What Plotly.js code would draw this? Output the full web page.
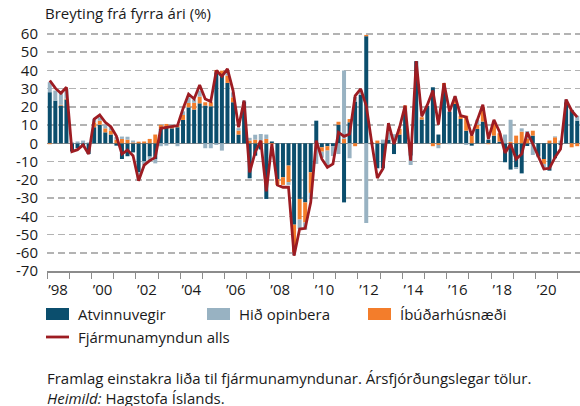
<!DOCTYPE html>
<html><head><meta charset="utf-8">
<script src="https://cdn.plot.ly/plotly-3.0.1.min.js"></script>
<style>html,body{margin:0;padding:0;background:#fff}#chart{width:580px;height:406px}</style>
</head><body><div id="chart"></div>
<script>
const startYear = 1998;
const nQuarters = 96;
const atvinnuvegir = [28,23.4,20.7,24,-4.5,-2.7,-1.3,-5.9,8.8,10.2,6,4.8,-1.3,-8.6,-7.1,-5,
  -15.9,-10,-7.3,-8.6,7.9,9.1,8.2,8.8,12.8,19.7,18.5,21.9,20.7,20.3,38.9,37.1,
  33.1,22.5,4.8,22.9,-19.2,-6.8,-3.4,-30.5,1,-19.6,-18.6,-12.2,-44.6,-30.5,-32.4,-15.9,
  12.4,-2.2,-1.6,-1.5,10.2,-32.4,11.5,22.9,26.5,58.7,-0.5,-13.7,-13.7,2,-5.9,4.8,
  18,-6.8,45,13,20.5,30.7,4.8,31,17.4,21.6,13.3,6.9,-1.3,7.9,11.9,1.8,
  4.2,0.9,-10.4,-14.4,-13.2,-16.5,-1.5,4.2,-7.3,-8.6,-15,-8.2,-1,22.5,18.3,12.4];
const hidOpinbera = [5.5,5.5,6.5,5.5,0.5,1,1.5,0.5,1.8,1.8,1.8,2,1.5,1.3,1.6,1,
  -3.6,-2.2,-2.7,-2.4,-1.6,-1.3,0,-1.6,2,3.1,1.8,3.3,-2.7,-2.7,-0.9,-4,
  2.7,2.7,1.3,0.5,1.5,2.7,3.6,2.4,0,0,0,-1.5,-1.5,-5.1,-4,-3.3,
  -11.3,-3.3,-7.9,-5.5,-5.9,37.5,-8.2,2.5,2.5,-43.7,0,0,2,4,5,0,
  0,-5.1,0,0,0,0,-1.8,0,-0.5,0.8,0,-0.9,0,2.9,0,0.5,
  1.5,0,4.8,12,-0.9,1.8,4,-6.4,-0.4,-1.8,0,0.5,1.5,1.5,0,2.7];
const ibudarhusnaedi = [-0.5,0,0.4,0.5,0,0,0,0,2.7,2.2,2.2,2.2,2,2.4,2,0.5,
  0.9,1,2.4,4.8,2.2,1.5,1.2,0.8,2.7,2.4,3.7,3.7,1.8,2.2,1.3,2.7,
  4,2.7,2.2,0,1.5,2,1.5,2.4,-0.5,-3.3,-4.2,-9.1,-15.2,-11.3,-11,-11.3,
  0,-2.4,-2.4,0,1.6,2.4,1.8,-1.6,0,0.7,0.5,1.5,0,0,0,3.1,
  2.7,0,0,1.3,0,-1.6,-0.9,2,0,3.3,1.8,8.2,4.2,2.2,7.9,-0.5,
  6.5,4.6,0,0.9,4.2,6.4,2.7,2.7,0,-2.7,1.5,3.3,0,0,-2.2,-1.6];
const fjarmunamyndunAlls = [34.4,30.2,27.4,30.7,-4.6,-3.5,-0.9,-5.9,13.3,15.5,11.5,9.1,4,-5.9,-3.7,-6.8,
  -20.5,-12,-9.5,-7.7,8.2,8.8,9.1,9.7,19,27,24.3,32,24.3,22.9,39.9,36.7,
  40.8,29,8.8,23.4,-15.9,-4.9,1.5,-26.3,-0.4,-22.9,-24.1,-24.1,-61.6,-47,-46.6,-32.4,
  1.5,-8.6,-13.2,-11.3,6,3.8,5.1,26,29.8,20.7,0,-19,-14,11,-0.4,8.8,
  20.7,-9.5,45,14.8,21,28.9,10.2,33,17.4,25.8,15.2,14.3,4.2,13.3,21.2,2.4,
  12.8,6.4,-5.3,-0.4,-8.6,-5.9,6,-0.4,-7.7,-14.1,-13.7,-7.7,-3.1,24,17.9,14.3];
const yearLabels = ["’98","’00","’02","’04","’06","’08","’10","’12","’14","’16","’18","’20"];
const yTickVals = [60,50,40,30,20,10,0,-10,-20,-30,-40,-50,-60,-70];
const yTickText = ["60","50","40","30","20","10","0","-10","-20","-30","-40","-50","-60","-70"];
const names = {a:"Atvinnuvegir", h:"Hið opinbera", i:"Íbúðarhúsnæði", t:"Fjármunamyndun alls"};
const colors = {a:"#0b4e6d", h:"#98b2c2", i:"#f37d2b", t:"#9d1c22"};

// quarter positions (decimal year, quarter centre)
const xq = [];
for (let k = 0; k < nQuarters; k++) xq.push(startYear + Math.floor(k/4) + (k%4)/4 + 0.125);
const labelPos = yearLabels.map((s, k) => startYear + 2*k + 0.5);

const FONT = "Open Sans, Noto Sans, sans-serif";
const FS = 15;
const TXT = "#1a1a1a";
const W = 580, H = 406, L = 47, R = 0, T = 32, B = 135;
const pw = W - L - R, ph = H - T - B;
const px = p => (p - L) / pw;
const py = p => (H - B - p) / ph;

const barCommon = {type:"bar", x:xq, showlegend:false, hoverinfo:"x+y+name"};
const traces = [
  Object.assign({}, barCommon, {name:names.a, y:atvinnuvegir, marker:{color:colors.a}}),
  Object.assign({}, barCommon, {name:names.i, y:ibudarhusnaedi, marker:{color:colors.i}}),
  Object.assign({}, barCommon, {name:names.h, y:hidOpinbera, marker:{color:colors.h}}),
  {type:"scatter", mode:"lines", name:names.t, x:xq, y:fjarmunamyndunAlls, showlegend:false,
   line:{color:colors.t, width:2.8}}
];

// manual legend
const shapes = [];
const annotations = [];
function swatch(x0, name, color) {
  shapes.push({type:"rect", xref:"paper", yref:"paper", x0:px(x0), x1:px(x0+23), y0:py(320), y1:py(308),
    fillcolor:color, line:{width:0}});
  annotations.push({xref:"paper", yref:"paper", x:px(x0+30), y:py(314), xanchor:"left", yanchor:"middle",
    text:name, showarrow:false, font:{family:FONT, size:FS, color:TXT}});
}
swatch(46, names.a, colors.a);
swatch(207, names.h, colors.h);
swatch(368, names.i, colors.i);
shapes.push({type:"line", xref:"paper", yref:"paper", x0:px(46), x1:px(69), y0:py(337), y1:py(337),
  line:{color:colors.t, width:2.8}});
annotations.push({xref:"paper", yref:"paper", x:px(76), y:py(337), xanchor:"left", yanchor:"middle",
  text:names.t, showarrow:false, font:{family:FONT, size:FS, color:TXT}});
annotations.push({xref:"paper", yref:"paper", x:px(45), y:py(388), xanchor:"left", yanchor:"middle",
  align:"left",
  text:"Framlag einstakra liða til fjármunamyndunar. Ársfjórðungslegar tölur.<br><i>Heimild:</i> Hagstofa Íslands.",
  showarrow:false, font:{family:FONT, size:FS, color:TXT}});

const layout = {
  width:W, height:H, margin:{l:L, r:R, t:T, b:B},
  paper_bgcolor:"#fff", plot_bgcolor:"#fff",
  font:{family:FONT, size:FS, color:TXT},
  title:{text:"Breyting frá fyrra ári (%)", xref:"container", yref:"container",
    x:45/W, xanchor:"left", y:1-14/H, yanchor:"middle", font:{family:FONT, size:FS, color:TXT}},
  barmode:"relative", bargap:0.28,
  xaxis:{range:[startYear, startYear+24], tickmode:"array", tickvals:labelPos, ticktext:yearLabels,
    ticks:"outside", ticklen:4, tickcolor:"rgba(0,0,0,0)", showgrid:false, zeroline:false,
    showline:true, linecolor:"#8c8c8c", linewidth:1.5,
    tickfont:{family:FONT, size:FS, color:TXT},
    minor:{tickmode:"linear", tick0:startYear, dtick:1, ticks:"outside", ticklen:6, tickwidth:1, tickcolor:"#8c8c8c", showgrid:false}},
  yaxis:{range:[-70, 61], tickmode:"array", tickvals:yTickVals, ticktext:yTickText,
    ticks:"outside", ticklen:5, tickcolor:"rgba(0,0,0,0)", showline:false,
    showgrid:true, gridcolor:"#b3b3b3", gridwidth:1.5, griddash:"7px,4px",
    zeroline:true, zerolinecolor:"#8c8c8c", zerolinewidth:1.5,
    tickfont:{family:FONT, size:FS, color:TXT}},
  shapes:shapes, annotations:annotations
};
Plotly.newPlot("chart", traces, layout, {displayModeBar:false, staticPlot:true});
</script></body></html>
